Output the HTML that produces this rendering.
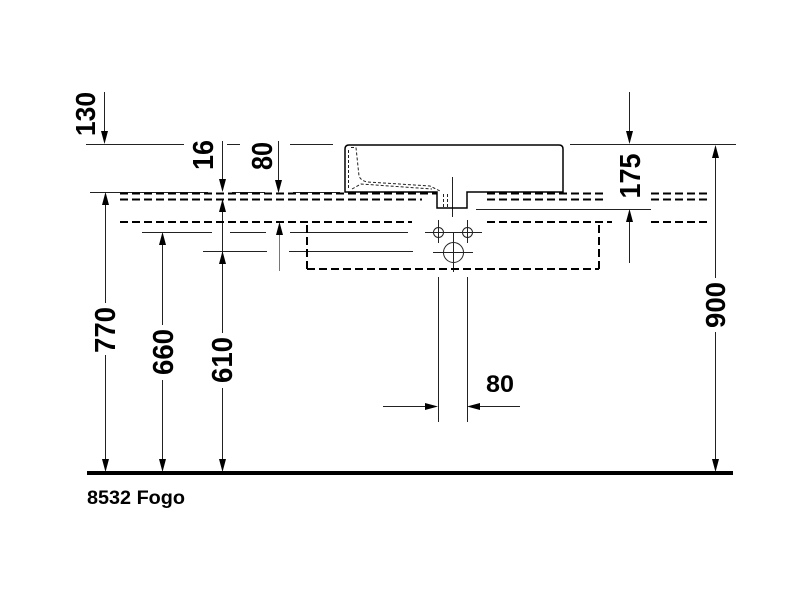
<!DOCTYPE html>
<html><head><meta charset="utf-8"><style>
html,body{margin:0;padding:0;background:#fff;}
svg{display:block;}
text{font-family:"Liberation Sans",Arial,sans-serif;font-weight:bold;fill:#000;}
</style></head><body>
<svg width="800" height="600" viewBox="0 0 800 600" xmlns="http://www.w3.org/2000/svg">
<rect width="800" height="600" fill="#fff"/>
<g stroke="#222" stroke-width="1" fill="none">
  <line x1="86" y1="144.5" x2="184" y2="144.5"/>
  <line x1="227" y1="144.5" x2="240" y2="144.5"/>
  <line x1="290" y1="144.5" x2="333" y2="144.5"/>
  <line x1="570" y1="144.5" x2="736" y2="144.5"/>
  <line x1="90" y1="192.5" x2="208" y2="192.5"/>
  <line x1="232" y1="192.5" x2="265" y2="192.5"/>
  <line x1="293" y1="192.5" x2="340" y2="192.5"/>
  <line x1="142" y1="232.5" x2="212" y2="232.5"/>
  <line x1="230" y1="232.5" x2="266" y2="232.5"/>
  <line x1="290" y1="232.5" x2="408" y2="232.5"/>
  <line x1="203" y1="251.5" x2="267" y2="251.5"/>
  <line x1="289" y1="251.5" x2="413" y2="251.5"/>
  <line x1="476" y1="209.5" x2="651" y2="209.5"/>

  <line x1="104.5" y1="92" x2="104.5" y2="140"/>
  <line x1="105.5" y1="196" x2="105.5" y2="303"/>
  <line x1="105.5" y1="355" x2="105.5" y2="470"/>
  <line x1="162.5" y1="236" x2="162.5" y2="325"/>
  <line x1="162.5" y1="380" x2="162.5" y2="470"/>
  <line x1="222.5" y1="141" x2="222.5" y2="190"/>
  <line x1="222.5" y1="202" x2="222.5" y2="333"/>
  <line x1="222.5" y1="388" x2="222.5" y2="470"/>
  <line x1="278.5" y1="141" x2="278.5" y2="190"/>
  <line x1="279.5" y1="226" x2="279.5" y2="271" stroke="#777"/>
  <line x1="629.5" y1="92" x2="629.5" y2="140"/>
  <line x1="629.5" y1="213" x2="629.5" y2="263"/>
  <line x1="715.5" y1="149" x2="715.5" y2="278"/>
  <line x1="715.5" y1="332" x2="715.5" y2="470"/>
  <line x1="438.5" y1="277" x2="438.5" y2="422"/>
  <line x1="467.5" y1="277" x2="467.5" y2="422"/>
  <line x1="383" y1="406.5" x2="436" y2="406.5"/>
  <line x1="469" y1="406.5" x2="520" y2="406.5"/>

  <line x1="452.5" y1="177" x2="452.5" y2="217"/>
  <line x1="425" y1="232.5" x2="482" y2="232.5"/>
  <line x1="438.5" y1="220" x2="438.5" y2="243"/>
  <line x1="467.5" y1="220" x2="467.5" y2="243"/>
  <circle cx="438.5" cy="232.5" r="5"/>
  <circle cx="467.5" cy="232.5" r="5"/>
  <line x1="433" y1="252.5" x2="473" y2="252.5"/>
  <line x1="453.5" y1="232" x2="453.5" y2="272"/>
  <circle cx="453.5" cy="252.5" r="10"/>

  <path d="M349,145 L559,145 Q563,145 563,149 L563,192 L467,192 L467,208 L437,208 L437,192 L345,192 L345,149 Q345,145 349,145 Z" stroke="#000" stroke-width="1.5"/>
  <g stroke-dasharray="3 2">
    <path d="M348.5,150 L348.5,190"/>
    <path d="M351,147.5 L356,147.5 L359,176 Q361,181 368,182 L430,186 L440,191"/>
    <path d="M352,189 L361,184 L432,189"/>
    <path d="M443.5,194 L443.5,207"/>
    <path d="M447.5,194 L447.5,207"/>
  </g>
</g>

<g stroke="#000" stroke-width="2" stroke-dasharray="8 4" fill="none">
  <line x1="120" y1="193.5" x2="437" y2="193.5"/>
  <line x1="120" y1="199.5" x2="422" y2="199.5"/>
  <line x1="487" y1="193.5" x2="605" y2="193.5"/>
  <line x1="487" y1="199.5" x2="605" y2="199.5"/>
  <line x1="651" y1="193.5" x2="707" y2="193.5"/>
  <line x1="651" y1="199.5" x2="707" y2="199.5"/>
  <line x1="120" y1="222" x2="412" y2="222"/>
  <line x1="487" y1="222" x2="612" y2="222"/>
  <line x1="651" y1="222" x2="707" y2="222"/>
  <line x1="307" y1="225" x2="307" y2="269"/>
  <line x1="599" y1="225" x2="599" y2="269"/>
  <line x1="307" y1="269" x2="599" y2="269"/>
</g>

<rect x="87" y="471" width="646" height="4" fill="#000"/>

<g fill="#000">
  <polygon points="104.5,144 101,131 108,131"/>
  <polygon points="105.5,192 102,205 109,205"/>
  <polygon points="105.5,472 102,459 109,459"/>
  <polygon points="162.5,232 159,245 166,245"/>
  <polygon points="162.5,472 159,459 166,459"/>
  <polygon points="222.5,192 219,179 226,179"/>
  <polygon points="222.5,199 219,212 226,212"/>
  <polygon points="222.5,251 219,264 226,264"/>
  <polygon points="222.5,472 219,459 226,459"/>
  <polygon points="278.5,193 275,180 282,180"/>
  <polygon points="279.5,222 276,235 283,235"/>
  <polygon points="629.5,144 626,131 633,131"/>
  <polygon points="629.5,209 626,222 633,222"/>
  <polygon points="715.5,145 712,158 719,158"/>
  <polygon points="715.5,472 712,459 719,459"/>
  <polygon points="438,406.5 425,403 425,410"/>
  <polygon points="467,406.5 480,403 480,410"/>
</g>

<text transform="translate(95,114) rotate(-90)" text-anchor="middle" font-size="28" textLength="44" lengthAdjust="spacingAndGlyphs">130</text>
<text transform="translate(213,155) rotate(-90)" text-anchor="middle" font-size="29" textLength="30" lengthAdjust="spacingAndGlyphs">16</text>
<text transform="translate(272,156) rotate(-90)" text-anchor="middle" font-size="29" textLength="28" lengthAdjust="spacingAndGlyphs">80</text>
<text transform="translate(640,176) rotate(-90)" text-anchor="middle" font-size="29" textLength="45" lengthAdjust="spacingAndGlyphs">175</text>
<text transform="translate(115,330) rotate(-90)" text-anchor="middle" font-size="29" textLength="46" lengthAdjust="spacingAndGlyphs">770</text>
<text transform="translate(173,352) rotate(-90)" text-anchor="middle" font-size="29" textLength="46" lengthAdjust="spacingAndGlyphs">660</text>
<text transform="translate(232,360) rotate(-90)" text-anchor="middle" font-size="29" textLength="46" lengthAdjust="spacingAndGlyphs">610</text>
<text transform="translate(725,305) rotate(-90)" text-anchor="middle" font-size="28" textLength="46" lengthAdjust="spacingAndGlyphs">900</text>

<text x="486" y="392" font-size="24" textLength="28" lengthAdjust="spacingAndGlyphs">80</text>
<text x="87" y="504" font-size="19" textLength="98" lengthAdjust="spacingAndGlyphs">8532 Fogo</text>
</svg>
</body></html>
